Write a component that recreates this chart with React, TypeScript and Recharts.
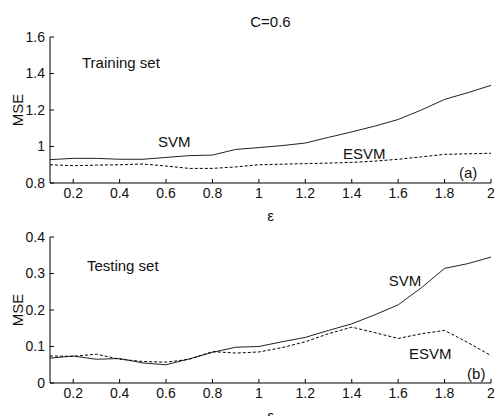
import React from "react"
import {
  LineChart,
  Line,
  XAxis,
  YAxis,
  ReferenceDot,
} from "recharts"

// epsilon values shared by both panels
const epsilon = [0.1, 0.2, 0.3, 0.4, 0.5, 0.6, 0.7, 0.8, 0.9, 1.0, 1.1, 1.2, 1.3, 1.4, 1.5, 1.6, 1.7, 1.8, 1.9, 2.0]

// (a) training set MSE
const trainSvm = [0.928, 0.935, 0.935, 0.93, 0.93, 0.94, 0.95, 0.953, 0.984, 0.994, 1.005, 1.019, 1.05, 1.08, 1.112, 1.148, 1.2, 1.258, 1.295, 1.335]
const trainEsvm = [0.9, 0.895, 0.898, 0.9, 0.904, 0.893, 0.88, 0.88, 0.888, 0.9, 0.903, 0.906, 0.909, 0.913, 0.92, 0.93, 0.943, 0.957, 0.96, 0.963]

// (b) testing set MSE
const testSvm = [0.068, 0.074, 0.065, 0.067, 0.055, 0.05, 0.066, 0.084, 0.098, 0.1, 0.113, 0.125, 0.144, 0.162, 0.187, 0.214, 0.261, 0.314, 0.327, 0.345]
const testEsvm = [0.074, 0.073, 0.079, 0.065, 0.059, 0.057, 0.065, 0.086, 0.082, 0.085, 0.097, 0.113, 0.135, 0.153, 0.138, 0.122, 0.135, 0.144, 0.111, 0.075]

const xTicks = [0.2, 0.4, 0.6, 0.8, 1, 1.2, 1.4, 1.6, 1.8, 2]
const trainTicks = [0.8, 1, 1.2, 1.4, 1.6]
const testTicks = [0, 0.1, 0.2, 0.3, 0.4]

const FONT = "'Liberation Sans', Arial, sans-serif"

const trainData = epsilon.map((e, i) => ({ e, svm: trainSvm[i], esvm: trainEsvm[i] }))
const testData = epsilon.map((e, i) => ({ e, svm: testSvm[i], esvm: testEsvm[i] }))

type Note = { x: number; y: number; text: string }

const trainNotes: Note[] = [
  { x: 0.238, y: 1.463, text: "Training set" },
  { x: 0.565, y: 1.025, text: "SVM" },
  { x: 1.362, y: 0.964, text: "ESVM" },
  { x: 1.862, y: 0.86, text: "(a)" },
]

const testNotes: Note[] = [
  { x: 0.259, y: 0.323, text: "Testing set" },
  { x: 1.56, y: 0.282, text: "SVM" },
  { x: 1.647, y: 0.082, text: "ESVM" },
  { x: 1.897, y: 0.025, text: "(b)" },
]

const PLOT_TOP = 37
const PLOT_H = 146
const X_AXIS_H = 30

const tickStyle = { fill: "#111", fontSize: 14, fontFamily: FONT }
const blank = () => ""

function Panel({
  data,
  yDomain,
  yTicks,
  notes,
  height,
}: {
  data: typeof trainData
  yDomain: [number, number]
  yTicks: number[]
  notes: Note[]
  height: number
}) {
  const bottom = height - PLOT_TOP - PLOT_H - X_AXIS_H
  return (
    <LineChart width={498} height={height} data={data} margin={{ top: PLOT_TOP, right: 7, bottom, left: 0 }}>
      <XAxis
        dataKey="e"
        type="number"
        domain={[0.1, 2]}
        ticks={xTicks}
        allowDataOverflow
        height={X_AXIS_H}
        tickSize={-4}
        tickMargin={9}
        stroke="#000"
        tick={tickStyle}
        label={{ value: "ε", position: "insideBottom", offset: -8, fill: "#111", fontSize: 15, fontFamily: FONT }}
      />
      <XAxis
        xAxisId="top"
        dataKey="e"
        type="number"
        orientation="top"
        domain={[0.1, 2]}
        ticks={xTicks}
        allowDataOverflow
        height={0}
        tickSize={-4}
        tickFormatter={blank}
        stroke="#000"
      />
      <YAxis
        type="number"
        domain={yDomain}
        ticks={yTicks}
        allowDataOverflow
        width={50}
        tickSize={-4}
        tickMargin={9}
        stroke="#000"
        tick={tickStyle}
        label={{
          content: (props: any) => {
            const vb = props.viewBox
            const cx = vb.x + 17
            const cy = vb.y + vb.height / 2
            return (
              <text x={cx} y={cy} transform={`rotate(-90, ${cx}, ${cy})`} textAnchor="middle" dominantBaseline="central" fill="#111" fontSize={15} fontFamily={FONT}>
                MSE
              </text>
            )
          },
        }}
      />
      <YAxis
        yAxisId="right"
        type="number"
        orientation="right"
        domain={yDomain}
        ticks={yTicks}
        allowDataOverflow
        width={0}
        tickSize={-4}
        tickFormatter={blank}
        stroke="#000"
      />
      <Line dataKey="svm" type="linear" stroke="#222" strokeWidth={1} dot={false} isAnimationActive={false} />
      <Line dataKey="esvm" type="linear" stroke="#000" strokeWidth={1} strokeDasharray="3 2" dot={false} isAnimationActive={false} />
      {notes.map((n) => (
        <ReferenceDot
          key={n.text}
          x={n.x}
          y={n.y}
          r={0}
          ifOverflow="visible"
          shape={(p: any) => (
            <text x={p.cx} y={p.cy} dominantBaseline="central" fill="#111" fontSize={15} fontFamily={FONT}>
              {n.text}
            </text>
          )}
        />
      ))}
    </LineChart>
  )
}

export default function App() {
  return (
    <div style={{ position: "absolute", left: 0, top: 0, width: 498, height: 416, background: "#fff", fontFamily: FONT, overflow: "hidden" }}>
      <div style={{ position: "absolute", left: 0, top: 0 }}>
        <Panel data={trainData} yDomain={[0.8, 1.6]} yTicks={trainTicks} notes={trainNotes} height={226} />
      </div>
      <div style={{ position: "absolute", left: 0, top: 200 }}>
        <Panel data={testData} yDomain={[0, 0.4]} yTicks={testTicks} notes={testNotes} height={222} />
      </div>
      <div style={{ position: "absolute", left: 50, top: 13, width: 441, textAlign: "center", fontSize: 15, color: "#111" }}>
        C=0.6
      </div>
    </div>
  )
}
